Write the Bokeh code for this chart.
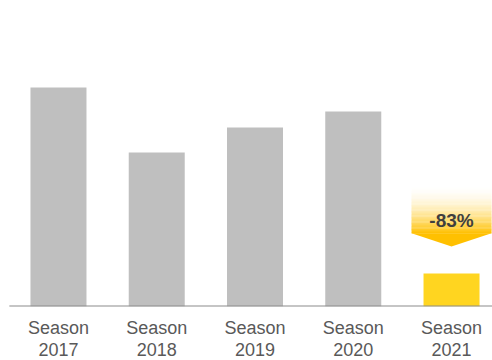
from bokeh.plotting import figure
from bokeh.models import ColumnDataSource, FixedTicker, Range1d
from bokeh.core.properties import value
from bokeh.embed import file_html
from bokeh.resources import INLINE

# ---- data ----
seasons = ["2017", "2018", "2019", "2020", "2021"]
values = [219, 154, 179, 195, 33]
change_label = "-83%"
bar_colors = ["#BFBFBF", "#BFBFBF", "#BFBFBF", "#BFBFBF", "#FFD520"]

xs = list(range(len(seasons)))
tick_labels = {i: "Season\n" + s for i, s in enumerate(seasons)}

p = figure(frame_width=492, frame_height=306, output_backend="svg",
           toolbar_location=None, min_border=0,
           x_range=Range1d(-0.590, 4.417), y_range=Range1d(0, 306))
p.outline_line_color = None
p.background_fill_color = "white"
p.border_fill_color = "white"
p.xgrid.visible = False
p.ygrid.visible = False
p.yaxis.visible = False

src = ColumnDataSource(dict(x=xs, top=values, color=bar_colors))
p.vbar(x="x", top="top", bottom=0, width=0.57, fill_color="color",
       line_color=None, source=src)

# baseline
p.segment(x0=[-0.5], y0=[0], x1=[4.6], y1=[0], line_color="#8C8C8C", line_width=2)

# x axis labels
ax = p.xaxis[0]
ax.ticker = FixedTicker(ticks=xs)
ax.major_label_overrides = tick_labels
ax.axis_line_color = None
ax.major_tick_line_color = None
ax.major_tick_out = 0
ax.major_tick_in = 0
ax.minor_tick_line_color = None
ax.major_label_standoff = 11
ax.major_label_text_font = "Liberation Sans"
ax.major_label_text_font_size = "18px"
ax.major_label_text_color = "#595959"
ax.major_label_text_line_height = 1.1

# ---- change arrow over last bar ----
xc = xs[-1]
v = values[-1]
half = 0.407
tip = v + 27
rb = v + 40
rt = v + 88
N = 40
bottoms, tops, cols = [], [], []
for i in range(N):
    y0 = rb + (rt - rb) * i / N
    y1 = rb + (rt - rb) * (i + 1) / N
    t = 1 - (i + 0.5) / N  # 1 at bottom, 0 at top
    w = t ** 1.8
    g = round(255 * (1 - w) + 192 * w)
    b = round(255 * (1 - w) + 0 * w)
    bottoms.append(y0)
    tops.append(y1 + 0.3)
    cols.append("#%02X%02X%02X" % (255, g, b))
p.quad(left=xc - half, right=xc + half, bottom=bottoms, top=tops,
       fill_color=cols, line_color=None)
p.patch(x=[xc - half, xc + half, xc], y=[rb + 0.3, rb + 0.3, tip],
        fill_color="#FFC000", line_color=None)
p.text(x=[xc], y=[v + 53], text=[change_label],
       text_font=value("Liberation Sans Narrow, Liberation Sans"),
       text_font_style="bold", text_font_size="19px",
       text_color="#3F3F3F", text_align="center", text_baseline="middle")

open("out.html", "w").write(file_html(p, INLINE))
